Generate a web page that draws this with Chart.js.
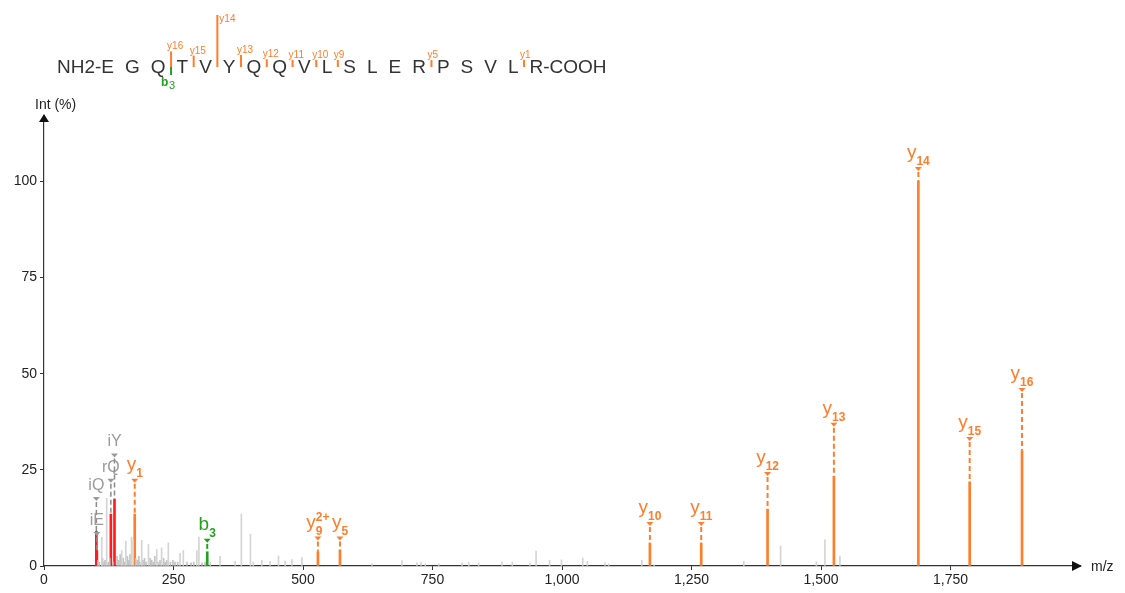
<!DOCTYPE html>
<html>
<head>
<meta charset="utf-8">
<script src="https://cdn.jsdelivr.net/npm/chart.js@4.4.0/dist/chart.umd.min.js"></script>
<style>
  html, body { margin: 0; padding: 0; background: #fff; }
  #spec { display: block; }
</style>
</head>
<body>
<canvas id="spec" width="1125" height="593"></canvas>
<script>
// ---- data ----
const sequence = ['E','G','Q','T','V','Y','Q','Q','V','L','S','L','E','R','P','S','V','L','R'];

// annotated fragment ions
const ionType   = ['y', 'b', 'y', 'y', 'y', 'y', 'y', 'y', 'y', 'y', 'y'];
const ionNum    = [1, 3, 9, 5, 10, 11, 12, 13, 14, 15, 16];
const ionCharge = ['', '', '2+', '', '', '', '', '', '', '', ''];
const ionMz     = [175.12, 315.13, 528.81, 571.36, 1169.70, 1268.77, 1396.83, 1524.89, 1687.95, 1787.02, 1888.07];
const ionInt    = [13.5, 3.7, 3.7, 4.2, 6.0, 6.0, 14.8, 23.3, 100, 21.9, 30.0];
const ionMark   = [22.4, 6.8, 7.4, 7.4, 11.2, 11.2, 24.2, 37.0, 103.5, 33.3, 46.0];

// immonium / related ions
const immLabel = ['iQ', 'iE', 'rQ', 'iY'];
const immMz    = [101.07, 102.05, 129.07, 136.08];
const immInt   = [9.0, 4.0, 13.5, 17.4];
const immMark  = [17.7, 8.6, 22.4, 29.0];

// unassigned peaks (light grey)
const greyMz  = [111.5, 121, 150, 158, 169, 172, 188.6, 201.6, 217.7, 227, 240, 262.7, 269, 295, 299, 321, 340, 369, 381, 398.5, 404, 420.5, 436.6, 452.7, 465.6, 478.5, 497.8, 633, 691, 720, 728, 736, 762, 807, 820, 839, 884, 904, 938, 950, 976, 999, 1040, 1049, 1083, 1090, 1154, 1178, 1351, 1422, 1491, 1507.6, 1536.5];
const greyInt = [7.5, 17.6, 4.0, 6.5, 7.5, 6.7, 6.7, 5.6, 4.3, 4.7, 6.0, 3.3, 4.0, 4.0, 7.5, 1.0, 2.5, 1.2, 13.5, 8.3, 1.0, 1.5, 1.2, 2.6, 1.3, 1.7, 2.2, 0.6, 1.4, 0.8, 1.0, 0.6, 0.6, 0.8, 1.0, 0.8, 1.0, 1.0, 0.8, 3.9, 1.5, 1.6, 2.1, 1.2, 0.8, 0.6, 1.5, 0.3, 1.2, 5.2, 1.1, 6.8, 2.6];

// small unassigned peaks near the baseline (a bit darker)
const lowMz  = [104, 107, 113, 116, 118, 124, 127, 133, 141, 144, 147, 153, 156, 161, 164, 166, 177, 180, 183, 185, 191, 194, 197, 205, 208, 211, 214, 220, 224, 231, 234, 237, 244, 249, 253, 258, 276, 284, 289, 305, 311];
const lowInt = [1.5, 1.0, 2.0, 1.0, 1.5, 1.0, 2.0, 1.0, 2.5, 1.5, 3.0, 2.0, 1.0, 2.5, 1.5, 3.0, 2.0, 1.5, 2.5, 1.0, 1.5, 2.0, 1.0, 2.0, 1.5, 1.0, 2.5, 1.0, 1.5, 2.0, 1.0, 1.5, 1.0, 1.5, 1.0, 1.0, 1.0, 0.8, 1.0, 0.8, 1.0];

const xTicks = [0, 250, 500, 750, 1000, 1250, 1500, 1750];
const yTicks = [0, 25, 50, 75, 100];

const ORANGE = '#ff7d2b';
const GREEN = '#22a022';
const RED = '#ff1c1c';
const FONT = '"Liberation Sans", Arial, sans-serif';

const pts = (mz, it) => mz.map((m, i) => ({ x: m, y: it[i] }));
const ionColor = t => t == 'b' ? GREEN : ORANGE;

// label with sub / superscript, and the small triangle below it
function drawIon(ctx, cx, yM, base, sub, sup, color, bigPx, smallPx) {
	ctx.font = bigPx + 'px ' + FONT;
	const wb = ctx.measureText(base).width;
	ctx.font = smallPx + 'px ' + FONT;
	const ws = Math.max(sub ? ctx.measureText(sub).width : 0, sup ? ctx.measureText(sup).width : 0);
	const x0 = cx - (wb + ws) / 2;
	ctx.fillStyle = color;
	ctx.textAlign = 'left';
	ctx.textBaseline = 'alphabetic';
	ctx.font = bigPx + 'px ' + FONT;
	ctx.fillText(base, x0, yM - 10);
	ctx.font = 'bold ' + smallPx + 'px ' + FONT;
	if (sub) ctx.fillText(sub, x0 + wb, yM - 3);
	if (sup) ctx.fillText(sup, x0 + wb, yM - 17);
	ctx.beginPath();
	ctx.moveTo(cx - 3.5, yM - 1);
	ctx.lineTo(cx + 3.5, yM - 1);
	ctx.lineTo(cx, yM + 3);
	ctx.closePath();
	ctx.fill();
}

function dashTo(ctx, px, yFrom, yTo, color, w) {
	if (yTo - yFrom < 3) return;
	ctx.save();
	ctx.strokeStyle = color;
	ctx.lineWidth = w;
	ctx.setLineDash([5, 3]);
	ctx.beginPath();
	ctx.moveTo(px, yFrom);
	ctx.lineTo(px, yTo);
	ctx.stroke();
	ctx.restore();
}

const annotations = {
	id: 'annotations',
	afterDatasetsDraw(chart) {
		const { ctx } = chart;
		const x = chart.scales.x, y = chart.scales.y;

		// immonium labels (grey)
		immMz.forEach((m, i) => {
			const px = x.getPixelForValue(m);
			const yM = y.getPixelForValue(immMark[i]);
			dashTo(ctx, px, yM + 4, y.getPixelForValue(immInt[i]), '#8a8a8a', 1.5);
			ctx.fillStyle = '#9a9a9a';
			ctx.font = '16px ' + FONT;
			ctx.textAlign = 'center';
			ctx.fillText(immLabel[i], px, yM - 8);
			ctx.beginPath();
			ctx.moveTo(px - 3.5, yM - 1);
			ctx.lineTo(px + 3.5, yM - 1);
			ctx.lineTo(px, yM + 3);
			ctx.closePath();
			ctx.fill();
		});

		// fragment ion labels
		ionMz.forEach((m, i) => {
			const px = x.getPixelForValue(m);
			const yM = y.getPixelForValue(ionMark[i]);
			const col = ionColor(ionType[i]);
			dashTo(ctx, px, yM + 4, y.getPixelForValue(ionInt[i]), col, 2);
			drawIon(ctx, px, yM, ionType[i], String(ionNum[i]), ionCharge[i], col, 19, 12);
		});

		// axis arrows
		const a = chart.chartArea;
		ctx.fillStyle = '#111';
		ctx.beginPath();
		ctx.moveTo(a.right - 8, a.bottom - 5);
		ctx.lineTo(a.right + 2, a.bottom);
		ctx.lineTo(a.right - 8, a.bottom + 5);
		ctx.closePath();
		ctx.fill();
		ctx.beginPath();
		ctx.moveTo(a.left - 5, a.top + 6);
		ctx.lineTo(a.left, a.top - 2);
		ctx.lineTo(a.left + 5, a.top + 6);
		ctx.closePath();
		ctx.fill();

		// axis titles
		ctx.fillStyle = '#222';
		ctx.font = '14px ' + FONT;
		ctx.textAlign = 'left';
		ctx.fillText('Int (%)', 35, 109);
		ctx.fillText('m/z', 1091, 571);

		// peptide sequence with cleavage marks
		const seqPx = 19, gap = 11, base = 73;
		ctx.font = seqPx + 'px ' + FONT;
		ctx.fillStyle = '#333';
		let cur = 57;
		ctx.fillText('NH2-', cur, base);
		cur += ctx.measureText('NH2-').width;
		const gapX = [];
		sequence.forEach((aa, k) => {
			ctx.fillText(aa, cur, base);
			cur += ctx.measureText(aa).width;
			if (k < sequence.length - 1) {
				gapX.push(cur + gap / 2);
				cur += gap;
			}
		});
		ctx.fillText('-COOH', cur, base);

		ionType.forEach((t, i) => {
			const n = ionNum[i];
			const after = t == 'y' ? sequence.length - n : n; // residue count before the cut
			const gx = gapX[after - 1];
			const col = ionColor(t);
			ctx.fillStyle = col;
			if (t == 'y') {
				const h = Math.max(7, ionInt[i] * 0.52);
				ctx.fillRect(gx - 1, 67 - h, 2, h);
				ctx.font = '10px ' + FONT;
				if (ionInt[i] > 50) ctx.fillText(t + n, gx + 2, 67 - h + 7);
				else ctx.fillText(t + n, gx - 4, 67 - h - 2);
			} else {
				ctx.fillRect(gx - 1, 67, 2, 8);
				ctx.font = 'bold 12px ' + FONT;
				ctx.fillText(t, gx - 10, 86);
				ctx.font = '11px ' + FONT;
				ctx.fillText(String(n), gx - 2, 89);
			}
		});
	}
};

const tickStyle = { color: '#222', font: { size: 14, family: FONT } };

new Chart(document.getElementById('spec'), {
	type: 'bar',
	data: {
		datasets: [
			{ data: pts(greyMz, greyInt), backgroundColor: '#d4d4d4', barThickness: 1 },
			{ data: pts(lowMz, lowInt), backgroundColor: '#c2c2c2', barThickness: 1 },
			{ data: pts(immMz, immInt), backgroundColor: RED, barThickness: 2 },
			{ data: pts(ionMz, ionInt), backgroundColor: ionType.map(ionColor), barThickness: 2 }
		]
	},
	options: {
		responsive: false,
		animation: false,
		grouped: false,
		layout: { padding: { top: 116, right: 45, left: 0, bottom: 0 } },
		plugins: { legend: { display: false }, tooltip: { enabled: false } },
		scales: {
			x: {
				type: 'linear', min: 0, max: 2000, offset: false,
				afterFit: s => { s.height = 27; },
				afterBuildTicks: s => { s.ticks = xTicks.map(v => ({ value: v })); },
				ticks: Object.assign({ callback: v => v.toLocaleString('en-US'), maxRotation: 0, autoSkip: false, padding: 2 }, tickStyle),
				grid: { display: true, offset: false, drawOnChartArea: false, drawTicks: true, tickLength: 4, color: '#333' },
				border: { display: true, color: '#333', width: 1.2 }
			},
			y: {
				min: 0, max: 117,
				afterFit: s => { s.width = 44; },
				afterBuildTicks: s => { s.ticks = yTicks.map(v => ({ value: v })); },
				ticks: Object.assign({ padding: 3 }, tickStyle),
				grid: { display: true, offset: false, drawOnChartArea: false, drawTicks: true, tickLength: 4, color: '#333' },
				border: { display: true, color: '#333', width: 1.2 }
			}
		}
	},
	plugins: [annotations]
});
</script>
</body>
</html>
